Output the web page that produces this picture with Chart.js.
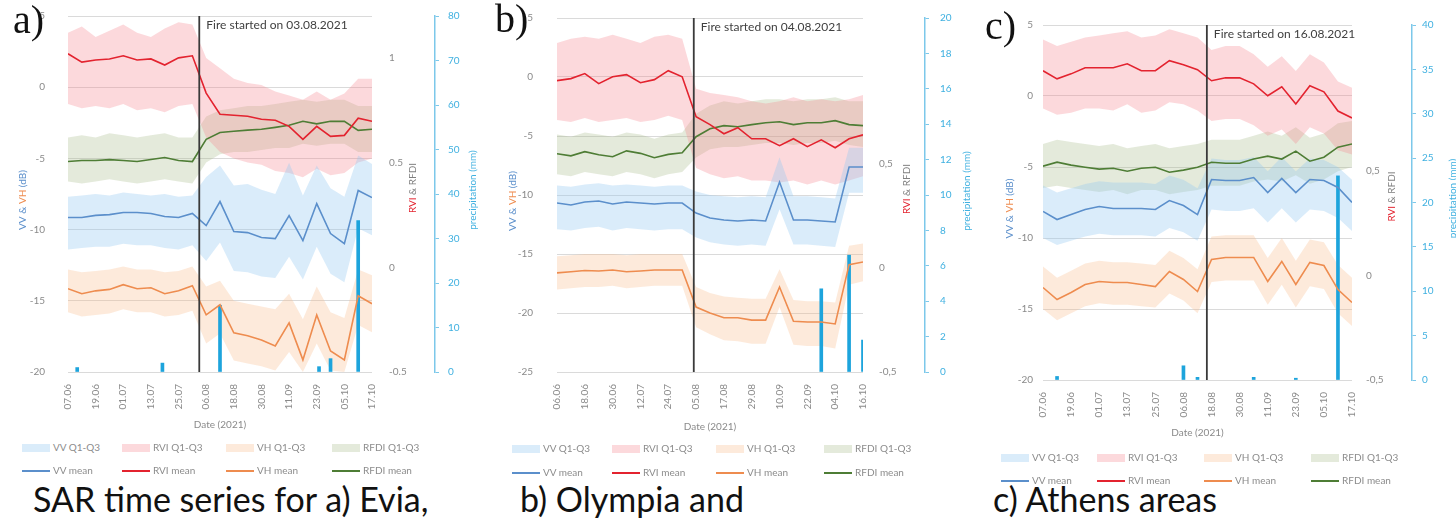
<!DOCTYPE html>
<html>
<head>
<meta charset="utf-8">
<script src="https://cdn.jsdelivr.net/npm/chart.js@4.4.1/dist/chart.umd.min.js"></script>
<style>
  body { margin: 0; background: #fff; width: 1456px; height: 522px; overflow: hidden; position: relative; font-family: Lato, sans-serif; }
  canvas { position: absolute; top: 0; }
  .tag { position: absolute; font-family: 'Liberation Serif', serif; font-size: 40px; line-height: 1; color: #111; }
  .cap { position: absolute; top: 482px; font-family: Lato, sans-serif; font-size: 34px; line-height: 1; color: #111; white-space: nowrap; }
  .leg { position: absolute; font-size: 10px; line-height: 12px; color: #8c8c8c; white-space: nowrap; }
  .sw { display: inline-block; width: 28px; vertical-align: middle; margin-right: 3px; }
</style>
</head>
<body>
<canvas id="chartA" width="485" height="435" style="left:0px"></canvas>
<canvas id="chartB" width="492" height="437" style="left:480px"></canvas>
<canvas id="chartC" width="496" height="443" style="left:960px"></canvas>
<div class="tag" style="left:13px;top:0px">a)</div>
<div class="tag" style="left:495px;top:-1px">b)</div>
<div class="tag" style="left:985px;top:6px">c)</div>
<div class="cap" style="left:33px">SAR time series for a) Evia,</div>
<div class="cap" style="left:520px">b) Olympia and</div>
<div class="cap" style="left:993px">c) Athens areas</div>
<script>
// ---- panel a) Evia ----
const datesA = ['07.06','13.06','19.06','25.06','01.07','07.07','13.07','19.07','25.07','31.07','06.08','12.08','18.08','24.08','30.08','05.09','11.09','17.09','23.09','29.09','05.10','11.10','17.10'];
const tickLabelsA = ['07.06','19.06','01.07','13.07','25.07','06.08','18.08','30.08','11.09','23.09','05.10','17.10'];
const vvMeanA = [-9.15,-9.15,-9.0,-8.95,-8.8,-8.8,-8.87,-9.08,-9.15,-8.87,-9.72,-8.03,-10.14,-10.21,-10.56,-10.63,-9.01,-10.77,-8.17,-10.28,-10.99,-7.25,-7.75];
const vvQ3A = [-7.7,-7.6,-7.5,-7.6,-7.4,-7.5,-7.6,-7.5,-7.7,-7.6,-6.3,-5.5,-6.9,-6.8,-7.2,-7.5,-5.3,-7.6,-5.5,-7.1,-7.7,-4.8,-5.4];
const vvQ1A = [-11.4,-11.3,-11.2,-11.2,-11.0,-11.1,-11.1,-11.3,-11.4,-11.1,-12.2,-10.9,-12.9,-13.0,-13.3,-13.4,-11.9,-13.5,-11.2,-13.1,-13.7,-9.9,-10.4];
const rviMeanA = [1.02,0.98,0.99,0.995,1.01,0.99,0.995,0.966,1.0,1.01,0.832,0.731,0.726,0.721,0.707,0.702,0.673,0.611,0.673,0.625,0.63,0.712,0.697];
const rviQ3A = [1.12,1.15,1.1,1.13,1.16,1.12,1.1,1.14,1.17,1.16,1.0,0.95,0.9,0.88,0.87,0.84,0.82,0.8,0.84,0.8,0.83,0.9,0.9];
const rviQ1A = [0.78,0.76,0.77,0.76,0.78,0.75,0.76,0.74,0.77,0.78,0.62,0.55,0.52,0.5,0.49,0.46,0.45,0.43,0.47,0.44,0.45,0.5,0.52];
const vhMeanA = [-14.15,-14.5,-14.3,-14.2,-13.87,-14.15,-14.08,-14.5,-14.3,-13.94,-15.99,-15.28,-17.25,-17.46,-17.75,-18.17,-16.55,-19.15,-15.99,-18.52,-19.15,-14.65,-15.21];
const vhQ3A = [-12.8,-13.0,-12.9,-12.8,-12.6,-12.8,-12.8,-13.0,-12.9,-12.6,-14.0,-13.6,-15.0,-15.2,-15.4,-15.6,-14.5,-16.3,-14.0,-15.8,-16.2,-12.8,-13.2];
const vhQ1A = [-15.8,-16.1,-16.0,-15.9,-15.6,-15.8,-15.8,-16.1,-16.0,-15.7,-18.0,-17.3,-19.2,-19.4,-19.6,-19.9,-18.6,-20.0,-18.0,-19.9,-20.0,-16.7,-17.2];
const rfdiMeanA = [0.505,0.51,0.51,0.514,0.51,0.505,0.515,0.524,0.51,0.505,0.611,0.644,0.65,0.655,0.659,0.668,0.678,0.697,0.685,0.697,0.697,0.654,0.659];
const rfdiQ3A = [0.62,0.63,0.62,0.64,0.63,0.62,0.63,0.64,0.62,0.62,0.72,0.75,0.76,0.77,0.77,0.78,0.79,0.8,0.79,0.8,0.8,0.77,0.77];
const rfdiQ1A = [0.41,0.4,0.41,0.42,0.41,0.4,0.41,0.42,0.41,0.4,0.5,0.54,0.55,0.55,0.56,0.57,0.57,0.59,0.58,0.59,0.59,0.55,0.55];
const rainDatesA = ['11.06','18.07','12.08','24.09','29.09','11.10'];
const rainA = [1, 2, 15, 1.2, 3, 34];

// ---- panel b) Olympia ----
const datesB = ['06.06','12.06','18.06','24.06','30.06','06.07','12.07','18.07','24.07','30.07','05.08','11.08','17.08','23.08','29.08','04.09','10.09','16.09','22.09','28.09','04.10','10.10','16.10'];
const tickLabelsB = ['06.06','18.06','30.06','12.07','24.07','05.08','17.08','29.08','10.09','22.09','04.10','16.10'];
const vvMeanB = [-10.68,-10.85,-10.59,-10.51,-10.76,-10.59,-10.68,-10.76,-10.68,-10.68,-11.53,-11.95,-12.12,-12.2,-12.12,-12.2,-8.9,-12.12,-12.12,-12.2,-12.29,-7.63,-7.63];
const vvQ3B = [-9.2,-9.3,-9.1,-9.0,-9.2,-9.1,-9.2,-9.3,-9.2,-9.2,-9.7,-10.0,-10.1,-10.2,-10.1,-10.2,-6.8,-10.1,-10.1,-10.2,-10.3,-6.0,-6.0];
const vvQ1B = [-12.9,-13.0,-12.8,-12.7,-13.0,-12.8,-12.9,-13.0,-12.9,-12.9,-13.6,-14.0,-14.2,-14.3,-14.2,-14.3,-11.2,-14.2,-14.2,-14.3,-14.4,-9.8,-9.8];
const rviMeanB = [0.899,0.909,0.933,0.885,0.918,0.928,0.889,0.904,0.947,0.918,0.726,0.688,0.644,0.673,0.62,0.62,0.587,0.62,0.582,0.615,0.577,0.62,0.639];
const rviQ3B = [1.08,1.1,1.11,1.1,1.12,1.1,1.08,1.11,1.12,1.1,0.86,0.84,0.83,0.82,0.8,0.79,0.8,0.82,0.8,0.81,0.8,0.81,0.83];
const rviQ1B = [0.71,0.7,0.72,0.7,0.71,0.72,0.7,0.71,0.73,0.71,0.48,0.45,0.43,0.44,0.42,0.42,0.41,0.42,0.4,0.42,0.4,0.42,0.44];
const vhMeanB = [-16.6,-16.5,-16.4,-16.44,-16.36,-16.5,-16.44,-16.36,-16.36,-16.36,-19.5,-20.0,-20.4,-20.4,-20.6,-20.6,-17.8,-20.7,-20.76,-20.76,-20.93,-15.9,-15.68];
const vhQ3B = [-15.2,-15.1,-15.0,-15.0,-15.0,-15.1,-15.0,-15.0,-15.0,-15.0,-17.8,-18.3,-18.6,-18.7,-18.8,-18.8,-16.3,-18.9,-19.0,-19.0,-19.1,-14.3,-14.1];
const vhQ1B = [-18.0,-17.9,-17.8,-17.8,-17.7,-17.9,-17.8,-17.7,-17.7,-17.7,-21.2,-21.8,-22.3,-22.4,-22.6,-22.6,-19.5,-22.7,-22.8,-22.8,-23.0,-17.6,-17.3];
const rfdiMeanB = [0.548,0.538,0.558,0.543,0.534,0.562,0.55,0.529,0.545,0.553,0.63,0.668,0.683,0.678,0.688,0.697,0.702,0.688,0.697,0.697,0.707,0.688,0.683];
const rfdiQ3B = [0.64,0.63,0.65,0.64,0.63,0.65,0.64,0.62,0.64,0.65,0.74,0.78,0.8,0.79,0.8,0.81,0.81,0.8,0.81,0.81,0.82,0.8,0.8];
const rfdiQ1B = [0.45,0.44,0.46,0.45,0.44,0.46,0.45,0.43,0.45,0.46,0.53,0.57,0.58,0.58,0.59,0.6,0.6,0.59,0.6,0.6,0.61,0.59,0.58];
const rainDatesB = ['28.09','10.10','16.10'];
const rainB = [4.7, 6.6, 1.8];

// ---- panel c) Athens ----
const datesC = ['07.06','13.06','19.06','25.06','01.07','07.07','13.07','19.07','25.07','31.07','06.08','12.08','18.08','24.08','30.08','05.09','11.09','17.09','23.09','29.09','05.10','11.10','17.10'];
const tickLabelsC = ['07.06','19.06','01.07','13.07','25.07','06.08','18.08','30.08','11.09','23.09','05.10','17.10'];
const vvMeanC = [-8.13,-8.7,-8.35,-7.99,-7.78,-7.92,-7.92,-7.92,-7.99,-7.36,-7.71,-8.35,-5.88,-5.95,-5.95,-5.74,-6.8,-5.81,-6.8,-5.88,-5.95,-6.44,-7.5];
const vvQ3C = [-6.3,-6.8,-6.5,-6.2,-6.0,-6.1,-6.1,-6.1,-6.2,-5.6,-5.9,-6.5,-4.4,-4.5,-4.5,-4.3,-5.3,-4.3,-5.3,-4.4,-4.5,-5.0,-5.9];
const vvQ1C = [-10.0,-10.5,-10.2,-9.9,-9.7,-9.8,-9.8,-9.8,-9.9,-9.3,-9.6,-10.2,-8.0,-8.1,-8.1,-7.9,-8.9,-7.9,-8.9,-8.0,-8.1,-8.6,-9.5];
const rviMeanC = [0.981,0.942,0.966,0.995,0.995,0.995,1.014,0.981,0.981,1.029,1.01,0.986,0.933,0.947,0.947,0.918,0.861,0.904,0.822,0.909,0.88,0.788,0.755];
const rviQ3C = [1.13,1.1,1.12,1.14,1.15,1.16,1.17,1.14,1.15,1.18,1.16,1.14,1.08,1.1,1.1,1.06,1.0,1.05,0.98,1.06,1.02,0.93,0.9];
const rviQ1C = [0.8,0.77,0.78,0.8,0.8,0.79,0.82,0.78,0.79,0.83,0.82,0.79,0.74,0.75,0.75,0.72,0.67,0.7,0.63,0.71,0.68,0.6,0.58];
const vhMeanC = [-13.49,-14.33,-13.84,-13.27,-13.06,-13.13,-13.13,-13.27,-13.42,-12.36,-12.92,-13.77,-11.51,-11.37,-11.37,-11.37,-13.06,-11.65,-13.27,-11.72,-11.94,-13.63,-14.54];
const vhQ3C = [-12.0,-12.8,-12.3,-11.8,-11.6,-11.7,-11.7,-11.8,-11.9,-10.9,-11.4,-12.2,-9.9,-9.8,-9.8,-9.8,-11.4,-10.0,-11.6,-10.1,-10.3,-11.9,-12.8];
const vhQ1C = [-15.0,-15.8,-15.3,-14.8,-14.6,-14.7,-14.7,-14.8,-14.9,-13.9,-14.4,-15.3,-13.1,-13.0,-13.0,-13.0,-14.7,-13.3,-14.9,-13.4,-13.6,-15.3,-16.2];
const rfdiMeanC = [0.524,0.543,0.529,0.519,0.51,0.514,0.5,0.514,0.519,0.495,0.505,0.519,0.543,0.538,0.538,0.558,0.572,0.558,0.596,0.548,0.567,0.615,0.63];
const rfdiQ3C = [0.63,0.65,0.64,0.63,0.62,0.63,0.61,0.62,0.63,0.61,0.62,0.63,0.65,0.65,0.65,0.67,0.69,0.67,0.71,0.66,0.68,0.73,0.74];
const rfdiQ1C = [0.42,0.43,0.42,0.41,0.4,0.41,0.39,0.41,0.41,0.39,0.4,0.41,0.43,0.43,0.43,0.45,0.46,0.45,0.48,0.44,0.46,0.5,0.52];
const rainDatesC = ['13.06','06.08','12.08','05.09','23.09','11.10'];
const rainC = [0.4, 1.6, 0.3, 0.3, 0.2, 23];

const legendNames = ['VV Q1-Q3', 'RVI Q1-Q3', 'VH Q1-Q3', 'RFDI Q1-Q3', 'VV mean', 'RVI mean', 'VH mean', 'RFDI mean'];

const colors = {
    vv: '#5b8fcb', vvBand: 'rgba(150, 200, 240, 0.35)',
    rvi: '#e3232f', rviBand: 'rgba(245, 130, 140, 0.30)',
    vh: '#ee8c4f', vhBand: 'rgba(250, 185, 135, 0.30)',
    rfdi: '#4e7d35', rfdiBand: 'rgba(165, 185, 135, 0.30)',
    rain: '#1da4dc', fire: '#3a3a3a', grid: '#dadada', tick: '#8a8a8a'
};

Chart.defaults.font.family = 'Lato, sans-serif';
Chart.defaults.font.size = 10;

// day of year for 'dd.mm' in 2021
const monthStart = { 6: 151, 7: 181, 8: 212, 9: 243, 10: 273 };
const dayOf = s => monthStart[parseInt(s.slice(3, 5), 10)] + parseInt(s.slice(0, 2), 10);

function drawRotated(ctx, parts, x, cy) {
    ctx.font = '10px Lato';
    const total = parts.reduce((w, p) => w + ctx.measureText(p[0]).width, 0);
    ctx.save();
    ctx.translate(x, cy);
    ctx.rotate(-Math.PI / 2);
    ctx.textAlign = 'left';
    ctx.textBaseline = 'middle';
    let pos = -total / 2;
    parts.forEach(p => {
        ctx.fillStyle = p[1];
        ctx.fillText(p[0], pos, 0);
        pos += ctx.measureText(p[0]).width;
    });
    ctx.restore();
}

const decorPlugin = {
    id: 'decor',
    afterDatasetsDraw(chart, args, o) {
        // vertical line on the fire date
        const { ctx, chartArea } = chart;
        const fx = chart.scales.x.getPixelForValue(dayOf(o.fire));
        ctx.save();
        ctx.strokeStyle = colors.fire;
        ctx.lineWidth = 1.8;
        ctx.beginPath();
        ctx.moveTo(fx, chartArea.top);
        ctx.lineTo(fx, chartArea.bottom);
        ctx.stroke();
        ctx.restore();
    },
    afterDraw(chart, args, o) {
        const { ctx, chartArea } = chart;
        const cy = (chartArea.top + chartArea.bottom) / 2;
        ctx.save();
        const fx = chart.scales.x.getPixelForValue(dayOf(o.fire));
        ctx.font = '12px Lato';
        ctx.fillStyle = '#404040';
        ctx.textBaseline = 'middle';
        ctx.fillText('Fire started on ' + o.fire + '.2021', fx + 7, chartArea.top + 9);
        drawRotated(ctx, [['VV & ', colors.vv], ['VH', colors.vh], [' (dB)', colors.vv]], o.leftX, cy + 6);
        drawRotated(ctx, [['RVI', colors.rvi], [' & RFDI', '#7f7f7f']], o.rviX, cy - 6);
        drawRotated(ctx, [['precipitation (mm)', '#3fb0e0']], o.rainX, cy - 4);
        ctx.restore();
    }
};

function buildPanel(p) {
    const pts = vals => vals.map((v, i) => ({ x: dayOf(p.dates[i]), y: v }));
    const line = (label, vals, color, axis) => ({
        type: 'line', label, data: pts(vals), yAxisID: axis, borderColor: color,
        borderWidth: 1.6, pointRadius: 0, fill: false, tension: 0, order: 0
    });
    const band = (label, vals, color, axis, fill) => ({
        type: 'line', label, data: pts(vals), yAxisID: axis, borderWidth: 0,
        borderColor: 'rgba(0,0,0,0)', backgroundColor: color, pointRadius: 0, fill, tension: 0, order: 3
    });
    // fixed axis sizes, and no extra padding from tick label spacing
    const fixWidth = w => s => { s.width = w; s.paddingTop = 4; s.paddingBottom = 4; };

    const datasets = [
        line('VV mean', p.vvMean, colors.vv, 'y'),
        line('RVI mean', p.rviMean, colors.rvi, 'y1'),
        line('VH mean', p.vhMean, colors.vh, 'y'),
        line('RFDI mean', p.rfdiMean, colors.rfdi, 'y1'),
        band('VV Q1-Q3', p.vvQ3, colors.vvBand, 'y', '+1'),
        band('VV Q1', p.vvQ1, colors.vvBand, 'y', false),
        band('RVI Q1-Q3', p.rviQ3, colors.rviBand, 'y1', '+1'),
        band('RVI Q1', p.rviQ1, colors.rviBand, 'y1', false),
        band('VH Q1-Q3', p.vhQ3, colors.vhBand, 'y', '+1'),
        band('VH Q1', p.vhQ1, colors.vhBand, 'y', false),
        band('RFDI Q1-Q3', p.rfdiQ3, colors.rfdiBand, 'y1', '+1'),
        band('RFDI Q1', p.rfdiQ1, colors.rfdiBand, 'y1', false),
        {
            type: 'bar', label: 'precipitation', yAxisID: 'y2', order: 1,
            data: p.rainDates.map((d, i) => ({ x: dayOf(d), y: p.rain[i] })),
            backgroundColor: colors.rain, barThickness: 3
        }
    ];

    new Chart(document.getElementById(p.id), {
        type: 'line',
        data: { datasets },
        plugins: [decorPlugin],
        options: {
            responsive: false,
            animation: false,
            layout: { padding: { top: p.top, left: 0, right: 0, bottom: 0 } },
            plugins: {
                legend: { display: false },
                tooltip: { enabled: false },
                decor: { fire: p.fire, leftX: p.leftX, rviX: p.rviX, rainX: p.rainX }
            },
            scales: {
                x: {
                    type: 'linear',
                    offset: false,
                    min: dayOf(p.dates[0]),
                    max: dayOf(p.dates[p.dates.length - 1]),
                    afterBuildTicks: s => { s.ticks = p.ticks.map(t => ({ value: dayOf(t) })); },
                    afterFit: s => { s.height = p.xH; s.paddingLeft = 0; s.paddingRight = 0; },
                    ticks: { autoSkip: false, minRotation: 90, maxRotation: 90, padding: 4, color: colors.tick, callback: (v, i) => p.ticks[i] },
                    grid: { display: false, offset: false },
                    border: { display: false },
                    title: { display: true, text: 'Date (2021)', color: colors.tick }
                },
                y: {
                    position: 'left',
                    min: p.dbMin, max: 5,
                    ticks: { stepSize: 5, color: colors.tick, padding: p.yPad },
                    grid: { color: colors.grid, drawTicks: false },
                    border: { display: false },
                    afterFit: fixWidth(p.yW)
                },
                y1: {
                    position: 'right',
                    min: -0.5, max: 1.2,
                    afterBuildTicks: s => { s.ticks = p.rviTicks.map(v => ({ value: v })); },
                    ticks: { color: colors.tick, padding: p.rviPad, callback: v => p.comma ? String(v).replace('.', ',') : String(v) },
                    grid: { display: false },
                    border: { display: false },
                    afterFit: fixWidth(p.y1W)
                },
                y2: {
                    position: 'right',
                    min: 0, max: p.rainMax,
                    ticks: { stepSize: p.rainStep, color: '#3fb0e0', padding: p.rainPad },
                    grid: { drawOnChartArea: false, tickLength: 4, color: '#7cc8ea' },
                    border: { display: true, color: '#7cc8ea', width: 1.5 },
                    afterFit: fixWidth(p.y2W)
                }
            }
        }
    });

    // legend, two rows of four
    const styles = {
        'VV Q1-Q3': ['band', colors.vvBand], 'RVI Q1-Q3': ['band', colors.rviBand],
        'VH Q1-Q3': ['band', colors.vhBand], 'RFDI Q1-Q3': ['band', colors.rfdiBand],
        'VV mean': ['line', colors.vv], 'RVI mean': ['line', colors.rvi],
        'VH mean': ['line', colors.vh], 'RFDI mean': ['line', colors.rfdi]
    };
    legendNames.forEach((name, i) => {
        const item = document.createElement('div');
        item.className = 'leg';
        item.style.left = (p.left + p.legX[i % 4] - 31) + 'px';
        item.style.top = (p.legY[Math.floor(i / 4)] - 6) + 'px';
        const sw = document.createElement('span');
        sw.className = 'sw';
        const st = styles[name];
        sw.style.height = st[0] === 'band' ? '8px' : '2px';
        sw.style.background = st[1];
        item.appendChild(sw);
        item.appendChild(document.createTextNode(name));
        document.body.appendChild(item);
    });
}

buildPanel({
    id: 'chartA', left: 0, dates: datesA, ticks: tickLabelsA, fire: '03.08',
    vvMean: vvMeanA, vvQ1: vvQ1A, vvQ3: vvQ3A, rviMean: rviMeanA, rviQ1: rviQ1A, rviQ3: rviQ3A,
    vhMean: vhMeanA, vhQ1: vhQ1A, vhQ3: vhQ3A, rfdiMean: rfdiMeanA, rfdiQ1: rfdiQ1A, rfdiQ3: rfdiQ3A,
    rainDates: rainDatesA, rain: rainA, rainMax: 80, rainStep: 10,
    dbMin: -20, rviTicks: [-0.5, 0, 0.5, 1], comma: false,
    top: 16, xH: 63, yW: 68, y1W: 63, y2W: 50, yPad: 23, rviPad: 9, rainPad: 9,
    leftX: 23, rviX: 413, rainX: 473,
    legX: [53, 153, 257, 363], legY: [447, 470]
});

buildPanel({
    id: 'chartB', left: 480, dates: datesB, ticks: tickLabelsB, fire: '04.08',
    vvMean: vvMeanB, vvQ1: vvQ1B, vvQ3: vvQ3B, rviMean: rviMeanB, rviQ1: rviQ1B, rviQ3: rviQ3B,
    vhMean: vhMeanB, vhQ1: vhQ1B, vhQ3: vhQ3B, rfdiMean: rfdiMeanB, rfdiQ1: rfdiQ1B, rfdiQ3: rfdiQ3B,
    rainDates: rainDatesB, rain: rainB, rainMax: 20, rainStep: 2,
    dbMin: -25, rviTicks: [-0.5, 0, 0.5], comma: true,
    top: 18, xH: 65, yW: 77, y1W: 62, y2W: 47, yPad: 24, rviPad: 8, rainPad: 11,
    leftX: 33, rviX: 427, rainX: 487,
    legX: [63, 163, 267, 375], legY: [448, 472]
});

buildPanel({
    id: 'chartC', left: 960, dates: datesC, ticks: tickLabelsC, fire: '16.08',
    vvMean: vvMeanC, vvQ1: vvQ1C, vvQ3: vvQ3C, rviMean: rviMeanC, rviQ1: rviQ1C, rviQ3: rviQ3C,
    vhMean: vhMeanC, vhQ1: vhQ1C, vhQ3: vhQ3C, rfdiMean: rfdiMeanC, rfdiQ1: rfdiQ1C, rfdiQ3: rfdiQ3C,
    rainDates: rainDatesC, rain: rainC, rainMax: 40, rainStep: 5,
    dbMin: -20, rviTicks: [-0.5, 0, 0.5], comma: true,
    top: 25, xH: 63, yW: 83, y1W: 60, y2W: 44, yPad: 10, rviPad: 6, rainPad: 6,
    leftX: 50, rviX: 432, rainX: 493,
    legX: [72, 168, 275, 382], legY: [457, 480]
});
</script>
</body>
</html>
